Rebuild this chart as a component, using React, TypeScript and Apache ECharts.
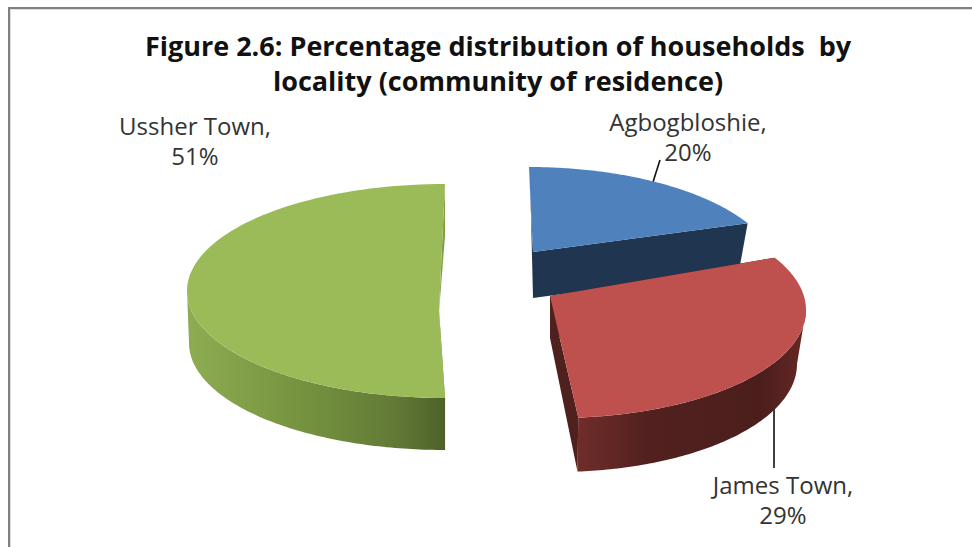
import React, { useEffect, useRef } from "react";
import * as echarts from "echarts";

const TITLE = "Figure 2.6: Percentage distribution of households  by\nlocality (community of residence)";
const categories = ["Agbogbloshie", "James Town", "Ussher Town"];
const shares = [20, 29, 51];
const topColors = ["#4F81BD", "#BE504D", "#9BBB59"];
const cutColors = ["#1F3550", "#4E201E", "#7F9F47"];
const wallStops: [number, string][][] = [
  [[0, "#1F3550"], [1, "#1F3550"]],
  [[0, "#702D2A"], [0.3, "#52211F"], [0.8, "#4B1E1C"], [1, "#662826"]],
  [[0, "#8EAC51"], [0.45, "#75933F"], [0.8, "#637A36"], [1, "#4E6128"]],
];

// Placement of each exploded wedge: upper rim ellipse, lower rim ellipse, tip on both levels,
// and a small angular trim (degrees) on the wedge's two ends.
const wedges = [
  { top: [529, 276, 250, 109], low: [531, 322, 238, 107], tip: [533, 252], tipLow: [533, 298], trim: [0, 0] },
  { top: [556, 310, 250, 108], low: [556, 364, 241, 108], tip: [550, 296], tipLow: [550, 338], trim: [0, -3] },
  { top: [445, 291, 258, 107], low: [445, 343, 256, 107], tip: [439, 310], tipLow: [439, 312], trim: [2.1, 0] },
];

const labelSpots = [
  { x: 688, y: 136 },
  { x: 783, y: 499 },
  { x: 195, y: 140 },
];
const leaders = [
  [[653, 182], [660, 160]],
  [[774, 407], [774, 468]],
];
const frame = [[9, 547], [9, 8], [972, 8]];
const frameInner = [[10.5, 547], [10.5, 9.5], [972, 9.5]];

const FORESHORTEN = 0.586;
const FONT = '"Open Sans", sans-serif';
const RAD = Math.PI / 180;

// Clockwise angle from twelve o'clock as seen on the tilted disc.
const tilted = (a: number) => {
  const v = Math.atan2(Math.sin(a) * FORESHORTEN, Math.cos(a));
  return v < -1e-6 ? v + Math.PI * 2 : v;
};

const rim = (e: number[], v: number) => [e[0] + e[2] * Math.sin(v), e[1] - e[3] * Math.cos(v)];

const arc = (e: number[], from: number, to: number) => {
  const n = 96;
  return Array.from({ length: n + 1 }, (_, i) => rim(e, from + ((to - from) * i) / n));
};

const renderWedge = (params: any, api: any) => {
  const i = params.dataIndex;
  const total = shares.reduce((s, v) => s + v, 0);
  const before = shares.slice(0, i).reduce((s, v) => s + v, 0);
  const w = wedges[i];
  const start = tilted((before / total) * Math.PI * 2) + w.trim[0] * RAD;
  const rawEnd = ((before + api.value(0)) / total) * Math.PI * 2;
  const end = (rawEnd >= Math.PI * 2 - 1e-6 ? Math.PI * 2 : tilted(rawEnd)) + w.trim[1] * RAD;
  const upper = arc(w.top, start, end);
  const lower = arc(w.low, start, end);
  const children: any[] = [
    {
      type: "polygon",
      shape: { points: [upper[0], lower[0], w.tipLow, w.tip] },
      style: { fill: cutColors[i] },
    },
  ];
  // The outer wall shows only on the near half of the disc.
  const wallFrom = Math.max(start, Math.PI / 2);
  const wallTo = Math.min(end, Math.PI * 1.5);
  if (wallTo > wallFrom) {
    const wallUpper = arc(w.top, wallFrom, wallTo);
    const wallLower = arc(w.low, wallFrom, wallTo);
    children.push({
      type: "polygon",
      shape: { points: wallUpper.concat(wallLower.slice().reverse()) },
      style: {
        fill: new echarts.graphic.LinearGradient(
          0, 0, 1, 0,
          wallStops[i].map(([offset, color]) => ({ offset, color })),
        ),
      },
    });
  }
  children.push(
    {
      type: "polygon",
      shape: { points: [w.tip, upper[upper.length - 1], lower[lower.length - 1], w.tipLow] },
      style: { fill: cutColors[i] },
    },
    {
      type: "polygon",
      shape: { points: [w.tip as number[]].concat(upper) },
      style: { fill: topColors[i] },
    },
  );
  return { type: "group", children };
};

export default function App() {
  const ref = useRef<HTMLDivElement>(null);
  useEffect(() => {
    document.body.style.margin = "0";
    const chart = echarts.init(ref.current!, undefined, { renderer: "svg" });
    chart.setOption({
      animation: false,
      backgroundColor: "#ffffff",
      title: {
        text: TITLE,
        left: 493,
        top: 23,
        textAlign: "center",
        textStyle: {
          fontFamily: FONT,
          fontWeight: "bold",
          fontSize: 27,
          lineHeight: 35,
          color: "#111111",
        },
      },
      series: [
        {
          type: "custom",
          coordinateSystem: "none",
          renderItem: renderWedge,
          data: shares.map((v) => [v]),
          silent: true,
        },
      ],
      graphic: [
        {
          type: "polyline",
          shape: { points: frameInner },
          style: { stroke: "#dcdcdc", lineWidth: 1, fill: "none" },
        },
        {
          type: "polyline",
          shape: { points: frame },
          style: { stroke: "#808080", lineWidth: 2, fill: "none" },
        },
        ...leaders.map((pts) => ({
          type: "polyline",
          shape: { points: pts },
          style: { stroke: "#111111", lineWidth: 1.6, fill: "none" },
        })),
        ...categories.map((c, i) => ({
          type: "text",
          x: labelSpots[i].x,
          y: labelSpots[i].y,
          style: {
            text: `${c},\n${shares[i]}%`,
            font: `24px ${FONT}`,
            lineHeight: 30,
            fill: "#333333",
            align: "center",
            verticalAlign: "middle",
          },
        })),
      ],
    });
    return () => chart.dispose();
  }, []);
  return <div ref={ref} style={{ width: 972, height: 547 }} />;
}
